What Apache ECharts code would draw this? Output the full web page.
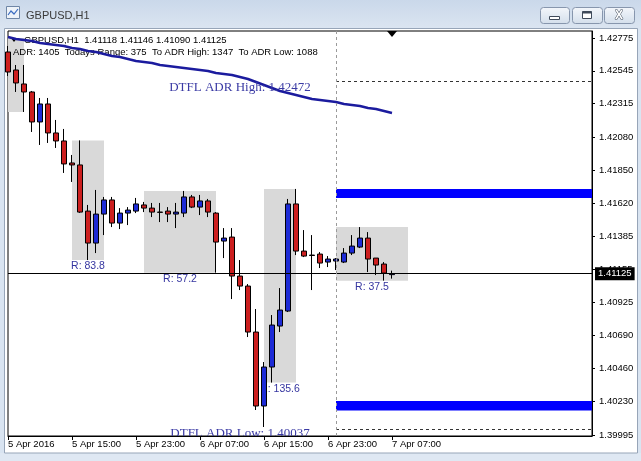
<!DOCTYPE html>
<html><head><meta charset="utf-8">
<script src="https://cdn.jsdelivr.net/npm/echarts@6/dist/echarts.min.js"></script>
<style>html,body{margin:0;padding:0;background:#fff}#c{width:641px;height:461px}</style>
</head><body><div id="c"></div>
<script>
// ---- data ----
const tickLabels = ['5 Apr 2016','5 Apr 15:00','5 Apr 23:00','6 Apr 07:00','6 Apr 15:00','6 Apr 23:00','7 Apr 07:00'];
const tickEvery = 8;
const slotCount = 74;
const priceTicks = [1.42775,1.42545,1.42315,1.42080,1.41850,1.41620,1.41385,1.41155,1.40925,1.40690,1.40460,1.40230,1.39995];
const yMin = 1.39988, yMax = 1.42824;

const opens  = [1.42677,1.42551,1.42453,1.42397,1.42187,1.42313,1.42110,1.42054,1.41900,1.41886,1.41563,1.41339,1.41542,1.41641,1.41479,1.41549,1.41563,1.41606,1.41584,1.41556,1.41563,1.41542,1.41549,1.41662,1.41591,1.41634,1.41549,1.41353,1.41381,1.41108,1.41038,1.40716,1.40198,1.40471,1.40758,1.40863,1.41613,1.41283,1.41255,1.41262,1.41206,1.41213,1.41206,1.41269,1.41311,1.41374,1.41234,1.41192,1.41118];
const closes = [1.42537,1.42460,1.42397,1.42187,1.42313,1.42110,1.42054,1.41893,1.41886,1.41556,1.41339,1.41542,1.41641,1.41479,1.41549,1.41570,1.41613,1.41584,1.41556,1.41554,1.41542,1.41556,1.41662,1.41591,1.41634,1.41556,1.41346,1.41374,1.41108,1.41038,1.40716,1.40198,1.40471,1.40765,1.40870,1.41613,1.41283,1.41248,1.41252,1.41199,1.41227,1.41227,1.41269,1.41318,1.41374,1.41227,1.41185,1.41129,1.41125];
const lows   = [1.42509,1.42397,1.42257,1.42117,1.42026,1.42040,1.42005,1.41830,1.41767,1.41550,1.41220,1.41269,1.41395,1.41451,1.41437,1.41465,1.41549,1.41556,1.41521,1.41486,1.41486,1.41444,1.41521,1.41584,1.41535,1.41521,1.41132,1.41234,1.40947,1.41010,1.40681,1.40170,1.40051,1.40362,1.40716,1.40856,1.41255,1.41241,1.41010,1.41164,1.41171,1.41150,1.41199,1.41255,1.41304,1.41136,1.41115,1.41076,1.41090];
const highs  = [1.42719,1.42586,1.42586,1.42404,1.42355,1.42355,1.42201,1.42138,1.41956,1.42058,1.41606,1.41711,1.41662,1.41662,1.41584,1.41591,1.41655,1.41627,1.41620,1.41620,1.41591,1.41620,1.41704,1.41676,1.41676,1.41648,1.41556,1.41444,1.41444,1.41220,1.41052,1.40877,1.40506,1.40835,1.41024,1.41648,1.41718,1.41430,1.41395,1.41276,1.41248,1.41234,1.41304,1.41395,1.41451,1.41416,1.41234,1.41206,1.41146];

const adrCurve = [1.42782,1.42768,1.42761,1.42754,1.42740,1.42733,1.42726,1.42719,1.42705,1.42698,1.42684,1.42677,1.42663,1.42649,1.42642,1.42628,1.42614,1.42607,1.42600,1.42586,1.42579,1.42572,1.42565,1.42558,1.42551,1.42544,1.42530,1.42523,1.42516,1.42502,1.42488,1.42467,1.42446,1.42425,1.42404,1.42390,1.42376,1.42362,1.42348,1.42341,1.42334,1.42327,1.42313,1.42306,1.42299,1.42285,1.42278,1.42264,1.42250];

const boxStart  = [0, 8, 17, 32, 41];
const boxEnd    = [2, 12, 26, 36, 50];
const boxHigh   = [1.42775, 1.42058, 1.41704, 1.41718, 1.41451];
const boxLow    = [1.42257, 1.41220, 1.41132, 1.40362, 1.41076];
const boxLabels = ['', 'R: 83.8', 'R: 57.2', 'R: 135.6', 'R: 37.5'];

const todayIndex = 41;
const bandTop    = [1.41718, 1.40233];
const bandBottom = [1.41655, 1.40167];
const adrHigh = 1.42472, adrLow = 1.40037;
const lastPrice = 1.41125;
const annIndex  = [29, 29];
const annPrice  = [1.42425, 1.40002];
const annText   = ['DTFL ADR High: ' + adrHigh.toFixed(5), 'DTFL ADR Low: ' + adrLow.toFixed(5)];
const headerLine1 = 'GBPUSD,H1  1.41118 1.41146 1.41090 1.41125';
const headerLine2 = 'ADR: 1405  Todays Range: 375  To ADR High: 1347  To ADR Low: 1088';

// ---- chart ----
const categories = Array.from({length: slotCount}, (_, i) => String(i));
const lastSlot = slotCount - 1;
const showTick = (i) => i % tickEvery === 0 && i / tickEvery < tickLabels.length;
const F = 'Liberation Sans, Arial, sans-serif';
const labelBlue = '#3535a0';

const boxAreas = boxStart.map((s, i) => [
  {name: boxLabels[i], coord: [s, boxHigh[i]]},
  {coord: [boxEnd[i], boxLow[i]]}
]);
const bandAreas = bandTop.map((t, i) => [
  {name: '', coord: [todayIndex, t], itemStyle: {color: '#0000ff', opacity: 1}},
  {coord: [lastSlot, bandBottom[i]]}
]);

const chart = echarts.init(document.getElementById('c'));
const btn = (x, w) => ({type: 'rect', z: 100, shape: {x: x + 0.5, y: 7.5, width: w, height: 16, r: 3},
  style: {fill: new echarts.graphic.LinearGradient(0,0,0,1,[{offset:0,color:'#f4f7fb'},{offset:1,color:'#d3deeb'}]), stroke: '#8796ad', lineWidth: 1}});

chart.setOption({
  animation: false,
  backgroundColor: '#ffffff',
  grid: {left: 8, right: 49, top: 31, bottom: 25, show: true, borderColor: '#000', borderWidth: 1, backgroundColor: 'transparent'},
  xAxis: {
    type: 'category', data: categories, boundaryGap: false,
    axisLine: {show: true, lineStyle: {color: '#000', width: 1}},
    axisTick: {show: true, interval: (i) => showTick(i), length: 4, lineStyle: {color: '#000'}},
    axisLabel: {interval: (i) => showTick(i), formatter: (v, i) => tickLabels[i / tickEvery] || '',
      align: 'left', margin: 3, color: '#000', fontFamily: F, fontSize: 9.5},
    splitLine: {show: false}
  },
  yAxis: {
    type: 'value', position: 'right', min: yMin, max: yMax, scale: true,
    axisLine: {show: true, lineStyle: {color: '#000'}},
    axisTick: {show: true, customValues: priceTicks, length: 3, lineStyle: {color: '#000'}},
    axisLabel: {customValues: priceTicks, formatter: (v) => v.toFixed(5), margin: 7, color: '#000', fontFamily: F, fontSize: 9.5},
    splitLine: {show: false}
  },
  series: [
    {
      type: 'line', z: 1, data: closes, symbol: 'none', silent: true,
      lineStyle: {opacity: 0},
      markArea: {
        silent: true,
        itemStyle: {color: '#d9d9d9'},
        label: {show: true, position: 'bottom', distance: 1, formatter: '{b}', color: labelBlue, fontFamily: F, fontSize: 10.5},
        data: boxAreas.concat(bandAreas)
      }
    },
    {
      type: 'candlestick', z: 3, barWidth: 5,
      data: opens.map((o, i) => [o, closes[i], lows[i], highs[i]]),
      itemStyle: {color: '#1d2bd6', color0: '#cc1f1f', borderColor: '#000', borderColor0: '#000', borderWidth: 1},
      markPoint: {
        silent: true, label: {show: false},
        data: [{coord: [String(opens.length - 1), yMax], symbol: 'triangle', symbolRotate: 180, symbolSize: [10, 6], symbolOffset: [0, 3], itemStyle: {color: '#000'}}]
      }
    },
    {
      type: 'line', z: 4, data: adrCurve, symbol: 'none', silent: true,
      lineStyle: {color: '#1b1b9e', width: 2.5},
      markLine: {
        silent: true, symbol: ['none', 'none'], animation: false,
        label: {show: false},
        data: [
          [{coord: [0, lastPrice], lineStyle: {color: '#000', width: 1, type: 'solid'},
            label: {show: true, position: 'end', formatter: lastPrice.toFixed(5), color: '#fff', backgroundColor: '#000',
              padding: [2, 3, 1, 3], distance: 3, fontFamily: F, fontSize: 9.5}},
           {coord: [lastSlot, lastPrice]}],
          [{coord: [todayIndex, adrHigh], lineStyle: {color: '#333', width: 1, type: [3, 3]}}, {coord: [lastSlot, adrHigh]}],
          [{coord: [todayIndex, adrLow], lineStyle: {color: '#333', width: 1, type: [3, 3]}}, {coord: [lastSlot, adrLow]}],
          [{coord: [todayIndex, yMax], lineStyle: {color: '#9a9a9a', width: 1, type: [3, 3]}}, {coord: [todayIndex, yMin]}]
        ]
      }
    },
    {
      type: 'custom', z: 5, clip: true, silent: true,
      data: annIndex.map((x, i) => [x, annPrice[i]]),
      renderItem: (params, api) => {
        const p = api.coord([api.value(0), api.value(1)]);
        return {type: 'text', x: p[0], y: p[1], style: {text: annText[params.dataIndex], fill: '#3a3aa4',
          font: '13px "Liberation Serif", "Times New Roman", serif', align: 'center', verticalAlign: 'middle'}};
      }
    }
  ],
  graphic: [
    // window frame
    {type: 'rect', z: 100, shape: {x: 0, y: 0, width: 641, height: 29},
      style: {fill: new echarts.graphic.LinearGradient(0,0,0,1,[{offset:0,color:'#cad8ea'},{offset:1,color:'#dbe5f1'}])}},
    {type: 'rect', z: 100, shape: {x: 0, y: 29, width: 5, height: 432}, style: {fill: '#d9e4f1'}},
    {type: 'rect', z: 100, shape: {x: 638, y: 29, width: 3, height: 432}, style: {fill: '#d9e4f1'}},
    {type: 'rect', z: 100, shape: {x: 0, y: 453, width: 641, height: 8}, style: {fill: '#dfe8f3'}},
    {type: 'rect', z: 100, shape: {x: 4.5, y: 28.5, width: 633, height: 424.5}, style: {fill: 'none', stroke: '#97a5b8', lineWidth: 1}},
    // title icon and text
    {type: 'rect', z: 101, shape: {x: 6.5, y: 6.5, width: 13, height: 12}, style: {fill: '#eef3f9', stroke: '#6f86a6'}},
    {type: 'polyline', z: 102, shape: {points: [[8, 15], [11, 11], [14, 14], [18, 9]]}, style: {stroke: '#3b6cc0', lineWidth: 1.2, fill: 'none'}},
    {type: 'text', z: 101, x: 26, y: 16, style: {text: 'GBPUSD,H1', fill: '#3a3a3a', font: '11px ' + F, verticalAlign: 'middle'}},
    // buttons
    btn(540, 29), btn(572, 30), btn(604, 30),
    {type: 'rect', z: 101, shape: {x: 549.5, y: 16.5, width: 10, height: 3}, style: {fill: '#fff', stroke: '#3f4a5a'}},
    {type: 'rect', z: 101, shape: {x: 582.5, y: 11.5, width: 9, height: 7}, style: {fill: '#fff', stroke: '#3f4a5a', lineWidth: 1}},
    {type: 'rect', z: 102, shape: {x: 582.5, y: 11.5, width: 9, height: 2}, style: {fill: '#3f4a5a'}},
    {type: 'text', z: 101, x: 619, y: 16, style: {text: 'X', fill: '#fff', stroke: '#3f4a5a', lineWidth: 1, font: 'bold 12px ' + F, align: 'center', verticalAlign: 'middle'}},
    // chart header
    {type: 'polygon', z: 3, shape: {points: [[11, 38], [17, 38], [14, 42]]}, style: {fill: '#000'}},
    {type: 'text', z: 3, x: 24, y: 40, style: {text: headerLine1, fill: '#000', font: '9.5px ' + F, verticalAlign: 'middle'}},
    {type: 'text', z: 3, x: 13, y: 52, style: {text: headerLine2, fill: '#000', font: '9.5px ' + F, verticalAlign: 'middle'}}
  ]
});
</script>
</body></html>
